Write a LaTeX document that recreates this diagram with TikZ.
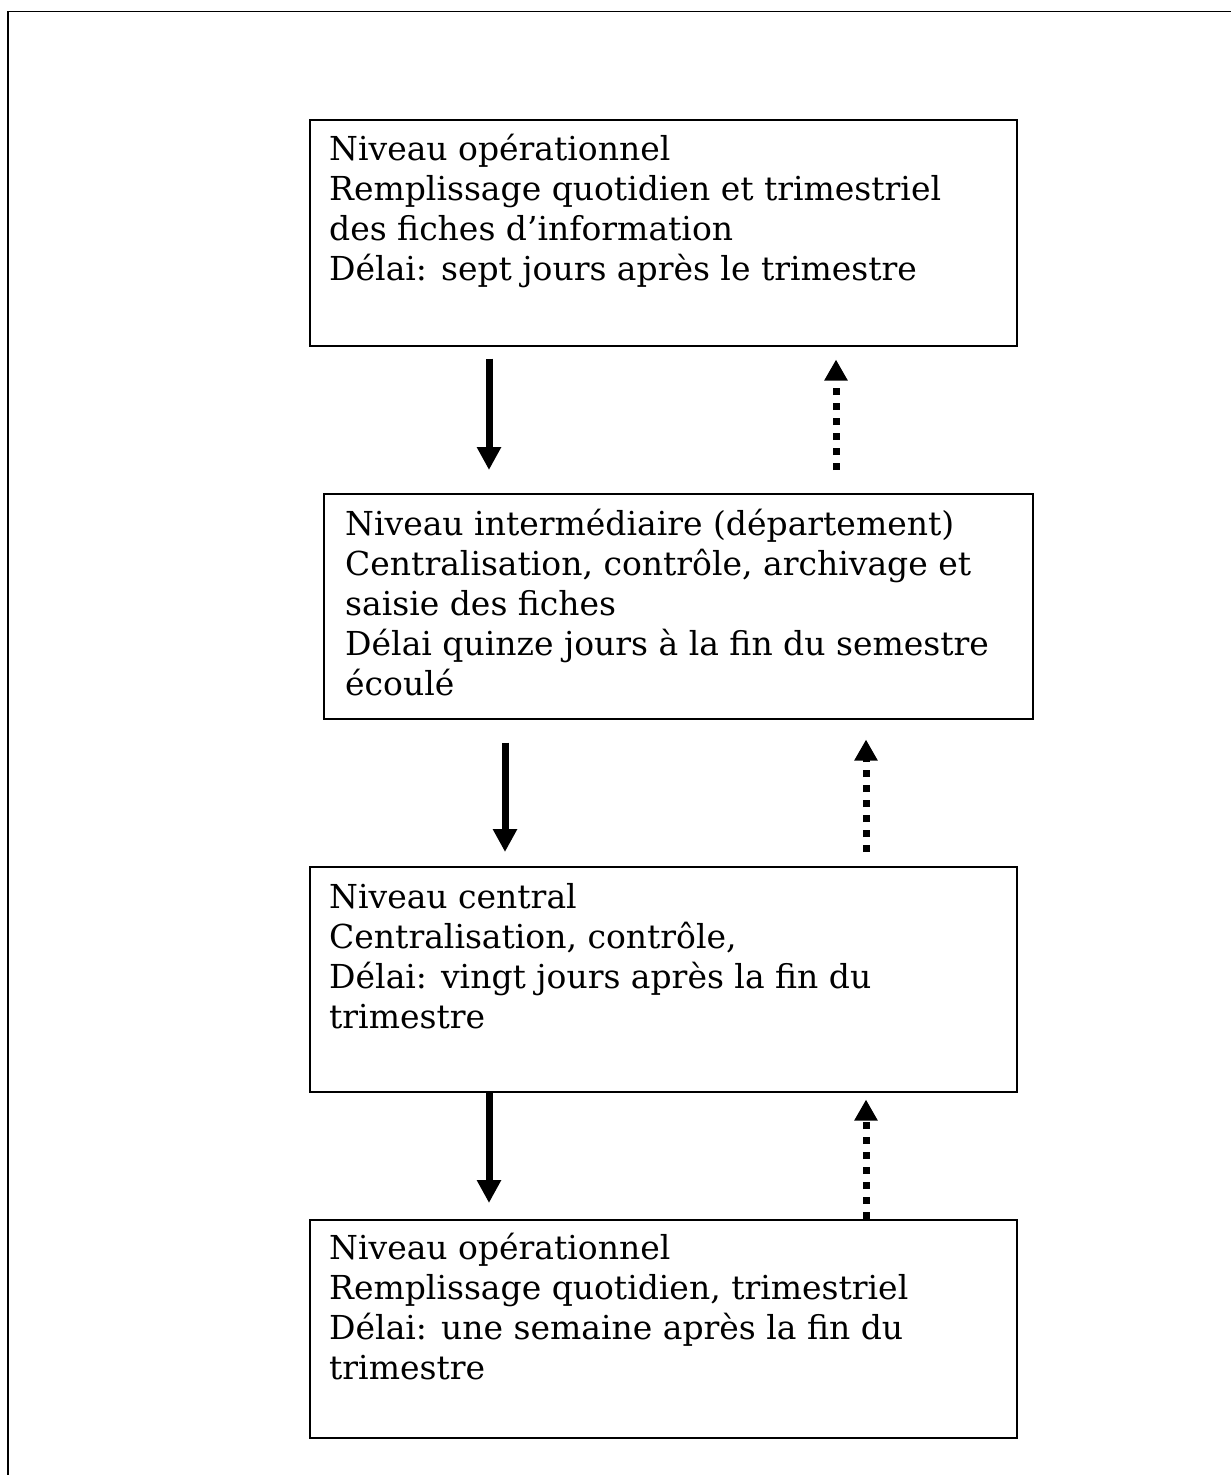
\documentclass[tikz,border=0pt]{standalone}
\usepackage{fontspec}
\setmainfont{DejaVu Serif}
\usetikzlibrary{arrows.meta}
\begin{document}
\begin{tikzpicture}[x=1pt,y=-1pt,
  level/.style={draw, line width=1.5pt, inner sep=0pt, anchor=north west},
  boxtext/.style={inner sep=0pt, anchor=base west, font=\fontsize{33}{40}\selectfont},
  down/.style={line width=7pt, -{Triangle[width=23pt,length=23pt]}},
  up/.style={line width=7pt, dash pattern=on 7pt off 8pt, -{Triangle[width=22pt,length=21pt]}},
  frame/.style={line width=1.5pt}]
\useasboundingbox (0,0) rectangle (1231,1475);

% page frame (left and top edges)
\draw[frame] (8,1475) -- (8,11.5) -- (1231,11.5);

% the four levels
\node[level, minimum width=707pt, minimum height=226pt] (b1) at (309,119) {};
\node[level, minimum width=709pt, minimum height=225pt] (b2) at (323,493) {};
\node[level, minimum width=707pt, minimum height=225pt] (b3) at (309,866) {};
\node[level, minimum width=707pt, minimum height=218pt] (b4) at (309,1219) {};

\node[boxtext] (t1) at (329,160) {\parbox[t]{700pt}{Niveau opérationnel\\
Remplissage quotidien et trimestriel\\
des fiches d’information\\
Délai: sept jours après le trimestre}};
\node[boxtext] (t2) at (345,535) {\parbox[t]{700pt}{Niveau intermédiaire (département)\\
Centralisation, contrôle, archivage et\\
saisie des fiches\\
Délai quinze jours à la fin du semestre\\
écoulé}};
\node[boxtext] (t3) at (329,908) {\parbox[t]{700pt}{Niveau central\\
Centralisation, contrôle,\\
Délai: vingt jours après la fin du\\
trimestre}};
\node[boxtext] (t4) at (329,1259) {\parbox[t]{700pt}{Niveau opérationnel\\
Remplissage quotidien, trimestriel\\
Délai: une semaine après la fin du\\
trimestre}};

% columns of the arrows
\coordinate (xa) at (489,0);
\coordinate (xb) at (836,0);
\coordinate (xc) at (505,0);
\coordinate (xd) at (866,0);

% downward flow (solid) and feedback (dotted)
\draw[down, shorten <=12pt, shorten >=23pt] (b1.south -| xa) -- (b2.north -| xa);
\draw[up, shorten <=23pt, shorten >=13pt] (b2.north -| xb) -- (b1.south -| xb);

\draw[down, shorten <=23pt, shorten >=14pt] (b2.south -| xc) -- (b3.north -| xc);
\draw[up, shorten <=14pt, shorten >=20pt] (b3.north -| xd) -- (b2.south -| xd);

\draw[down, shorten >=16pt] (b3.south -| xa) -- (b4.north -| xa);
\draw[up, shorten >=7pt] (b4.north -| xd) -- (b3.south -| xd);
\end{tikzpicture}
\end{document}
